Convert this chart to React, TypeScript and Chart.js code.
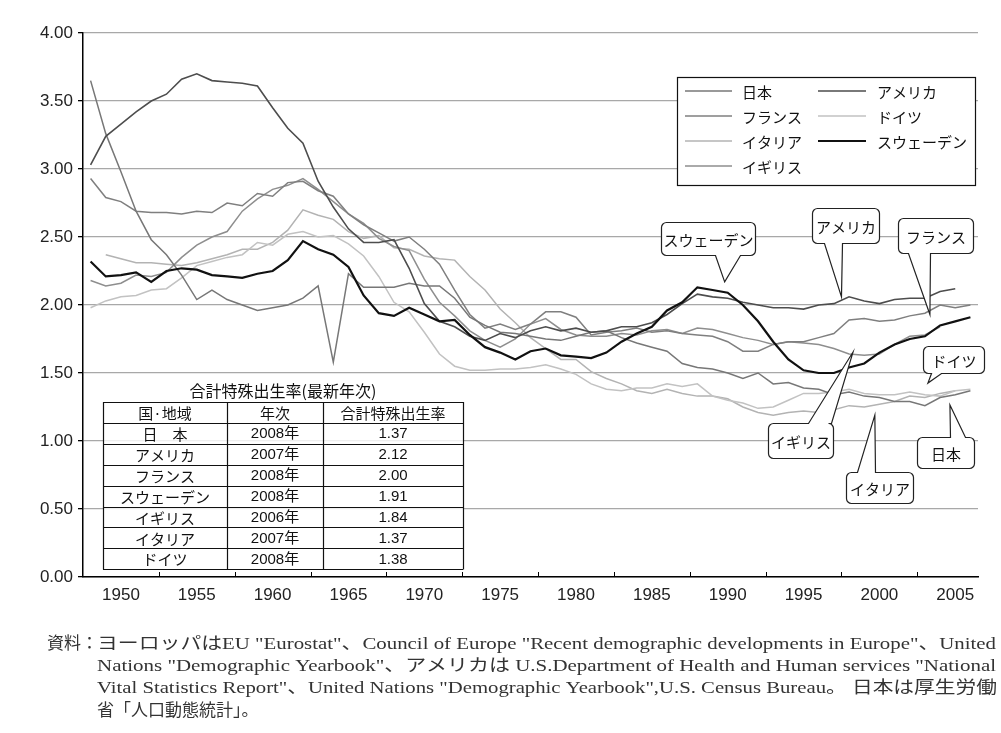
import React, { useEffect, useRef } from "react";
import { Chart, registerables } from "chart.js";

Chart.register(...registerables);

// ---------------- data ----------------
const years = [
  1950, 1951, 1952, 1953, 1954, 1955, 1956, 1957, 1958, 1959,
  1960, 1961, 1962, 1963, 1964, 1965, 1966, 1967, 1968, 1969,
  1970, 1971, 1972, 1973, 1974, 1975, 1976, 1977, 1978, 1979,
  1980, 1981, 1982, 1983, 1984, 1985, 1986, 1987, 1988, 1989,
  1990, 1991, 1992, 1993, 1994, 1995, 1996, 1997, 1998, 1999,
  2000, 2001, 2002, 2003, 2004, 2005, 2006, 2007, 2008,
];

const japan = [
  3.65, 3.26, 2.98, 2.69, 2.48, 2.37, 2.22, 2.04, 2.11, 2.04,
  2.0, 1.96, 1.98, 2.0, 2.05, 2.14, 1.58, 2.23, 2.13, 2.13,
  2.13, 2.16, 2.14, 2.14, 2.05, 1.91, 1.85, 1.8, 1.79, 1.77,
  1.75, 1.74, 1.77, 1.8, 1.81, 1.76, 1.72, 1.69, 1.66, 1.57,
  1.54, 1.53, 1.5, 1.46, 1.5, 1.42, 1.43, 1.39, 1.38, 1.34,
  1.36, 1.33, 1.32, 1.29, 1.29, 1.26, 1.32, 1.34, 1.37,
];

const usa = [
  3.03, 3.24, 3.33, 3.42, 3.5, 3.55, 3.66, 3.7, 3.65, 3.64,
  3.63, 3.61, 3.45, 3.3, 3.19, 2.91, 2.72, 2.56, 2.46, 2.46,
  2.48, 2.27, 2.01, 1.88, 1.84, 1.77, 1.74, 1.79, 1.76, 1.81,
  1.84, 1.81, 1.83, 1.8, 1.81, 1.84, 1.84, 1.87, 1.93, 2.01,
  2.08, 2.06, 2.05, 2.02, 2.0, 1.98, 1.98, 1.97, 2.0, 2.01,
  2.06, 2.03, 2.01, 2.04, 2.05, 2.05, 2.1, 2.12, null,
];

const france = [
  2.93, 2.79, 2.76, 2.69, 2.68, 2.68, 2.67, 2.69, 2.68, 2.75,
  2.73, 2.82, 2.8, 2.9, 2.91, 2.84, 2.8, 2.67, 2.59, 2.53,
  2.47, 2.5, 2.41, 2.3, 2.11, 1.93, 1.83, 1.86, 1.82, 1.86,
  1.95, 1.95, 1.91, 1.78, 1.8, 1.81, 1.83, 1.8, 1.81, 1.79,
  1.78, 1.77, 1.73, 1.66, 1.66, 1.71, 1.73, 1.73, 1.76, 1.79,
  1.89, 1.9, 1.88, 1.89, 1.92, 1.94, 2.0, 1.98, 2.0,
];

const germany = [
  1.98, 2.03, 2.06, 2.07, 2.11, 2.12, 2.2, 2.29, 2.32, 2.35,
  2.37, 2.46, 2.44, 2.52, 2.54, 2.5, 2.51, 2.45, 2.36, 2.21,
  2.02, 1.95, 1.8, 1.64, 1.55, 1.52, 1.52, 1.53, 1.53, 1.54,
  1.56, 1.53, 1.49, 1.42, 1.38, 1.37, 1.39, 1.39, 1.42, 1.4,
  1.42, 1.33, 1.3, 1.28, 1.24, 1.25, 1.3, 1.35, 1.35, 1.36,
  1.38, 1.35, 1.34, 1.34, 1.36, 1.34, 1.33, 1.37, 1.38,
];

const italy = [
  null, 2.37, 2.34, 2.31, 2.31, 2.3, 2.29, 2.31, 2.34, 2.37,
  2.41, 2.41, 2.46, 2.55, 2.7, 2.66, 2.63, 2.54, 2.49, 2.51,
  2.42, 2.41, 2.36, 2.34, 2.33, 2.21, 2.11, 1.97, 1.87, 1.76,
  1.68, 1.6, 1.6, 1.51, 1.46, 1.42, 1.37, 1.35, 1.38, 1.35,
  1.33, 1.33, 1.31, 1.25, 1.21, 1.19, 1.21, 1.22, 1.21, 1.23,
  1.26, 1.25, 1.27, 1.29, 1.33, 1.32, 1.35, 1.37, null,
];

const sweden = [
  2.32, 2.21, 2.22, 2.24, 2.17, 2.25, 2.27, 2.26, 2.22, 2.21,
  2.2, 2.23, 2.25, 2.33, 2.47, 2.41, 2.37, 2.28, 2.07, 1.94,
  1.92, 1.98, 1.93, 1.88, 1.89, 1.78, 1.69, 1.65, 1.6, 1.66,
  1.68, 1.63, 1.62, 1.61, 1.65, 1.73, 1.79, 1.84, 1.96, 2.02,
  2.13, 2.11, 2.09, 2.0, 1.88, 1.73, 1.6, 1.52, 1.5, 1.5,
  1.54, 1.57, 1.65, 1.71, 1.75, 1.77, 1.85, 1.88, 1.91,
];

const uk = [
  2.18, 2.14, 2.16, 2.22, 2.21, 2.24, 2.35, 2.44, 2.5, 2.54,
  2.69, 2.78, 2.85, 2.88, 2.93, 2.85, 2.76, 2.67, 2.6, 2.49,
  2.43, 2.4, 2.19, 2.02, 1.92, 1.81, 1.74, 1.69, 1.75, 1.86,
  1.9, 1.82, 1.78, 1.77, 1.77, 1.79, 1.78, 1.81, 1.82, 1.79,
  1.83, 1.82, 1.79, 1.76, 1.74, 1.71, 1.73, 1.72, 1.71, 1.68,
  1.64, 1.63, 1.64, 1.71, 1.77, 1.78, 1.84, null, null,
];

const xTickPositions = [1952, 1957, 1962, 1967, 1972, 1977, 1982, 1987, 1992, 1997, 2002, 2007];
const xTickLabels = ["1950", "1955", "1960", "1965", "1970", "1975", "1980", "1985", "1990", "1995", "2000", "2005"];
const xTickMarks = [1954.5, 1959.5, 1964.5, 1969.5, 1974.5, 1979.5, 1984.5, 1989.5, 1994.5, 1999.5, 2004.5];

const tableTitle = "合計特殊出生率(最新年次)";
const tableHeaders = ["国·地域", "年次", "合計特殊出生率"];
const tableCountries = ["日　本", "アメリカ", "フランス", "スウェーデン", "イギリス", "イタリア", "ドイツ"];
const tableYears = ["2008年", "2007年", "2008年", "2008年", "2006年", "2007年", "2008年"];
const tableRates = ["1.37", "2.12", "2.00", "1.91", "1.84", "1.37", "1.38"];

const footnoteLines = [
  "ヨーロッパはEU \"Eurostat\"、Council of Europe \"Recent demographic developments in Europe\"、United",
  "Nations \"Demographic Yearbook\"、アメリカは U.S.Department of Health and Human services \"National",
  "Vital Statistics Report\"、United Nations \"Demographic Yearbook\",U.S. Census Bureau。 日本は厚生労働",
  "省「人口動態統計」。",
];

// ---------------- styles ----------------
const CJK = "'Noto Sans CJK JP', 'Noto Sans', sans-serif";
const NUM = "'Liberation Sans', Arial, 'Noto Sans CJK JP', sans-serif";
const SERIF = "'Liberation Serif', 'DejaVu Serif', 'Noto Sans CJK JP', serif";

type Series = { name: string; values: (number | null)[]; color: string; width: number; order: number };
const series: Series[] = [
  { name: "日本", values: japan, color: "#777777", width: 1.5, order: 2 },
  { name: "アメリカ", values: usa, color: "#4d4d4d", width: 1.6, order: 1 },
  { name: "フランス", values: france, color: "#7f7f7f", width: 1.5, order: 2 },
  { name: "ドイツ", values: germany, color: "#c2c2c2", width: 1.5, order: 3 },
  { name: "イタリア", values: italy, color: "#b3b3b3", width: 1.5, order: 3 },
  { name: "スウェーデン", values: sweden, color: "#111111", width: 2.2, order: 0 },
  { name: "イギリス", values: uk, color: "#8e8e8e", width: 1.5, order: 2 },
];

const legendCol1 = ["日本", "フランス", "イタリア", "イギリス"];
const legendCol2 = ["アメリカ", "ドイツ", "スウェーデン"];

type Callout = { text: string; tip: [number, number]; box: [number, number, number, number]; base: [number, number]; side: "bottom" | "top" };
const callouts: Callout[] = [
  { text: "スウェーデン", tip: [1991.8, 2.17], box: [-64, -60, 94, 33], base: [54, 79], side: "bottom" },
  { text: "アメリカ", tip: [1999.5, 2.06], box: [-29, -89, 67, 35], base: [12, 30], side: "bottom" },
  { text: "フランス", tip: [2005.33, 1.93], box: [-32, -97, 75, 35], base: [10, 32], side: "bottom" },
  { text: "ドイツ", tip: [2005.2, 1.426], box: [-5, -37, 61, 27], base: [8, 18], side: "bottom" },
  { text: "イギリス", tip: [2000.26, 1.654], box: [-85, 71, 65, 35], base: [40, 63], side: "top" },
  { text: "イタリア", tip: [2001.7, 1.19], box: [-29, 57, 67, 31], base: [11, 29], side: "top" },
  { text: "日本", tip: [2006.65, 1.265], box: [-33, 32, 57, 31], base: [33, 48], side: "top" },
];

function line(ctx: CanvasRenderingContext2D, x1: number, y1: number, x2: number, y2: number) {
  ctx.beginPath();
  ctx.moveTo(x1, y1);
  ctx.lineTo(x2, y2);
  ctx.stroke();
}

function drawCallout(ctx: CanvasRenderingContext2D, c: Callout, tx: number, ty: number) {
  const [dx, dy, w, h] = c.box;
  const x = Math.round(tx + dx) + 0.5;
  const y = Math.round(ty + dy) + 0.5;
  const r = 5;
  const b1 = x + c.base[0];
  const b2 = x + c.base[1];
  ctx.save();
  ctx.beginPath();
  ctx.moveTo(x + r, y);
  if (c.side === "top") {
    ctx.lineTo(b1, y);
    ctx.lineTo(tx, ty);
    ctx.lineTo(b2, y);
  }
  ctx.lineTo(x + w - r, y);
  ctx.arcTo(x + w, y, x + w, y + r, r);
  ctx.lineTo(x + w, y + h - r);
  ctx.arcTo(x + w, y + h, x + w - r, y + h, r);
  if (c.side === "bottom") {
    ctx.lineTo(b2, y + h);
    ctx.lineTo(tx, ty);
    ctx.lineTo(b1, y + h);
  }
  ctx.lineTo(x + r, y + h);
  ctx.arcTo(x, y + h, x, y + h - r, r);
  ctx.lineTo(x, y + r);
  ctx.arcTo(x, y, x + r, y, r);
  ctx.closePath();
  ctx.fillStyle = "#ffffff";
  ctx.fill();
  ctx.strokeStyle = "#222";
  ctx.lineWidth = 1.2;
  ctx.stroke();
  ctx.fillStyle = "#111";
  ctx.font = `15px ${CJK}`;
  ctx.textAlign = "center";
  ctx.textBaseline = "middle";
  ctx.fillText(c.text, x + w / 2, y + h / 2 + 1);
  ctx.restore();
}

function drawFitted(ctx: CanvasRenderingContext2D, text: string, x: number, y: number, width: number) {
  const w = ctx.measureText(text).width;
  ctx.save();
  ctx.translate(x, y);
  ctx.scale(width / w, 1);
  ctx.fillText(text, 0, 0);
  ctx.restore();
}

const overlayPlugin = {
  id: "overlay",
  afterDatasetsDraw(chart: any) {
    const ctx: CanvasRenderingContext2D = chart.ctx;
    const xs = chart.scales.x;
    const ys = chart.scales.y;
    const area = chart.chartArea;

    // inward tick marks on the category axis
    ctx.save();
    ctx.strokeStyle = "#000";
    ctx.lineWidth = 1;
    xTickMarks.forEach((v) => {
      const px = Math.round(xs.getPixelForValue(v)) + 0.5;
      line(ctx, px, area.bottom, px, area.bottom - 5);
    });
    ctx.restore();

    // legend box
    ctx.save();
    const lx = 677.5, ly = 77.5, lw = 298, lh = 108;
    ctx.fillStyle = "#fff";
    ctx.fillRect(lx, ly, lw, lh);
    ctx.strokeStyle = "#111";
    ctx.lineWidth = 1.2;
    ctx.strokeRect(lx, ly, lw, lh);
    ctx.font = `15px ${CJK}`;
    ctx.textAlign = "left";
    ctx.textBaseline = "middle";
    const rowY = [91, 116, 141, 166];
    const drawItem = (name: string, x1: number, x2: number, tx: number, yy: number) => {
      const s = series.find((q) => q.name === name)!;
      ctx.strokeStyle = s.color;
      ctx.lineWidth = s.width;
      line(ctx, x1, yy, x2, yy);
      ctx.fillStyle = "#111";
      ctx.fillText(name, tx, yy + 1);
    };
    legendCol1.forEach((n, i) => drawItem(n, 685, 732, 742, rowY[i]));
    legendCol2.forEach((n, i) => drawItem(n, 818, 866, 877, rowY[i]));
    ctx.restore();

    // table
    ctx.save();
    const cols = [103, 227, 323, 463];
    const top = 402;
    const rowH = 20.9;
    const nRows = tableCountries.length + 1;
    ctx.fillStyle = "#111";
    ctx.font = `16px ${CJK}`;
    ctx.textAlign = "center";
    ctx.textBaseline = "middle";
    ctx.fillText(tableTitle, 283, 391);
    ctx.fillStyle = "rgba(255,255,255,0.8)";
    ctx.fillRect(cols[0], top, cols[3] - cols[0], nRows * rowH);
    ctx.strokeStyle = "#111";
    ctx.lineWidth = 1.2;
    for (let r = 0; r <= nRows; r++) {
      const yy = Math.round(top + r * rowH) + 0.5;
      line(ctx, cols[0], yy, cols[3], yy);
    }
    cols.forEach((cx) => line(ctx, cx + 0.5, top, cx + 0.5, Math.round(top + nRows * rowH) + 0.5));
    const centers = [(cols[0] + cols[1]) / 2, (cols[1] + cols[2]) / 2, (cols[2] + cols[3]) / 2];
    ctx.fillStyle = "#111";
    ctx.font = `15px ${CJK}`;
    tableHeaders.forEach((t, i) => ctx.fillText(t, centers[i], top + rowH / 2 + 1));
    for (let r = 0; r < tableCountries.length; r++) {
      const yy = top + (r + 1.5) * rowH + 1;
      ctx.font = `15px ${CJK}`;
      ctx.fillText(tableCountries[r], centers[0], yy);
      ctx.font = `15px ${NUM}`;
      ctx.fillText(tableYears[r], centers[1], yy);
      ctx.fillText(tableRates[r], centers[2], yy);
    }
    ctx.restore();

    // callouts
    callouts.forEach((c) => {
      const tx = xs.getPixelForValue(c.tip[0]);
      const ty = ys.getPixelForValue(c.tip[1]);
      drawCallout(ctx, c, tx, ty);
    });

    // footnote
    ctx.save();
    ctx.fillStyle = "#333";
    ctx.textBaseline = "middle";
    ctx.textAlign = "left";
    ctx.font = `17px ${SERIF}`;
    ctx.fillText("資料：", 47, 645);
    drawFitted(ctx, footnoteLines[0], 97, 645, 899);
    drawFitted(ctx, footnoteLines[1], 97, 667, 899);
    drawFitted(ctx, footnoteLines[2], 97, 689, 900);
    ctx.fillText(footnoteLines[3], 97, 712);
    ctx.restore();
  },
};

export default function App() {
  const canvasRef = useRef<HTMLCanvasElement | null>(null);

  useEffect(() => {
    if (!canvasRef.current) return;
    const chart = new Chart(canvasRef.current, {
      type: "line",
      data: {
        datasets: series.map((s) => ({
          label: s.name,
          data: years.map((yr, i) => ({ x: yr, y: s.values[i] })),
          borderColor: s.color,
          backgroundColor: s.color,
          borderWidth: s.width,
          pointRadius: 0,
          tension: 0,
          order: s.order,
          spanGaps: false,
        })),
      },
      options: {
        responsive: false,
        animation: false,
        layout: { padding: { left: 0, right: 23, top: 33, bottom: 0 } },
        plugins: {
          legend: { display: false },
          tooltip: { enabled: false },
          title: { display: false },
        },
        scales: {
          x: {
            type: "linear",
            min: 1949.5,
            max: 2008.5,
            afterBuildTicks: (axis: any) => {
              axis.ticks = xTickPositions.map((v) => ({ value: v }));
            },
            afterFit: (axis: any) => {
              axis.height = 156;
            },
            grid: { display: false, drawTicks: false },
            border: { display: true, color: "#000", width: 1.5 },
            ticks: {
              autoSkip: false,
              maxRotation: 0,
              padding: 8,
              color: "#222",
              font: { family: NUM, size: 17 },
              callback: (_v: any, i: number) => xTickLabels[i],
            },
          },
          y: {
            min: 0,
            max: 4,
            afterFit: (axis: any) => {
              axis.width = 83;
            },
            grid: { color: "#a8a8a8", lineWidth: 1.3, drawTicks: true, tickLength: 5, tickColor: "#000" },
            border: { display: true, color: "#000", width: 1.5 },
            ticks: {
              stepSize: 0.5,
              padding: 5,
              color: "#222",
              font: { family: NUM, size: 17 },
              callback: (v: any) => Number(v).toFixed(2),
            },
          },
        },
      } as any,
      plugins: [overlayPlugin],
    });
    return () => chart.destroy();
  }, []);

  return (
    <div style={{ position: "fixed", left: 0, top: 0, width: 1001, height: 733, background: "#fff" }}>
      <canvas ref={canvasRef} width={1001} height={733} style={{ display: "block" }} />
    </div>
  );
}
